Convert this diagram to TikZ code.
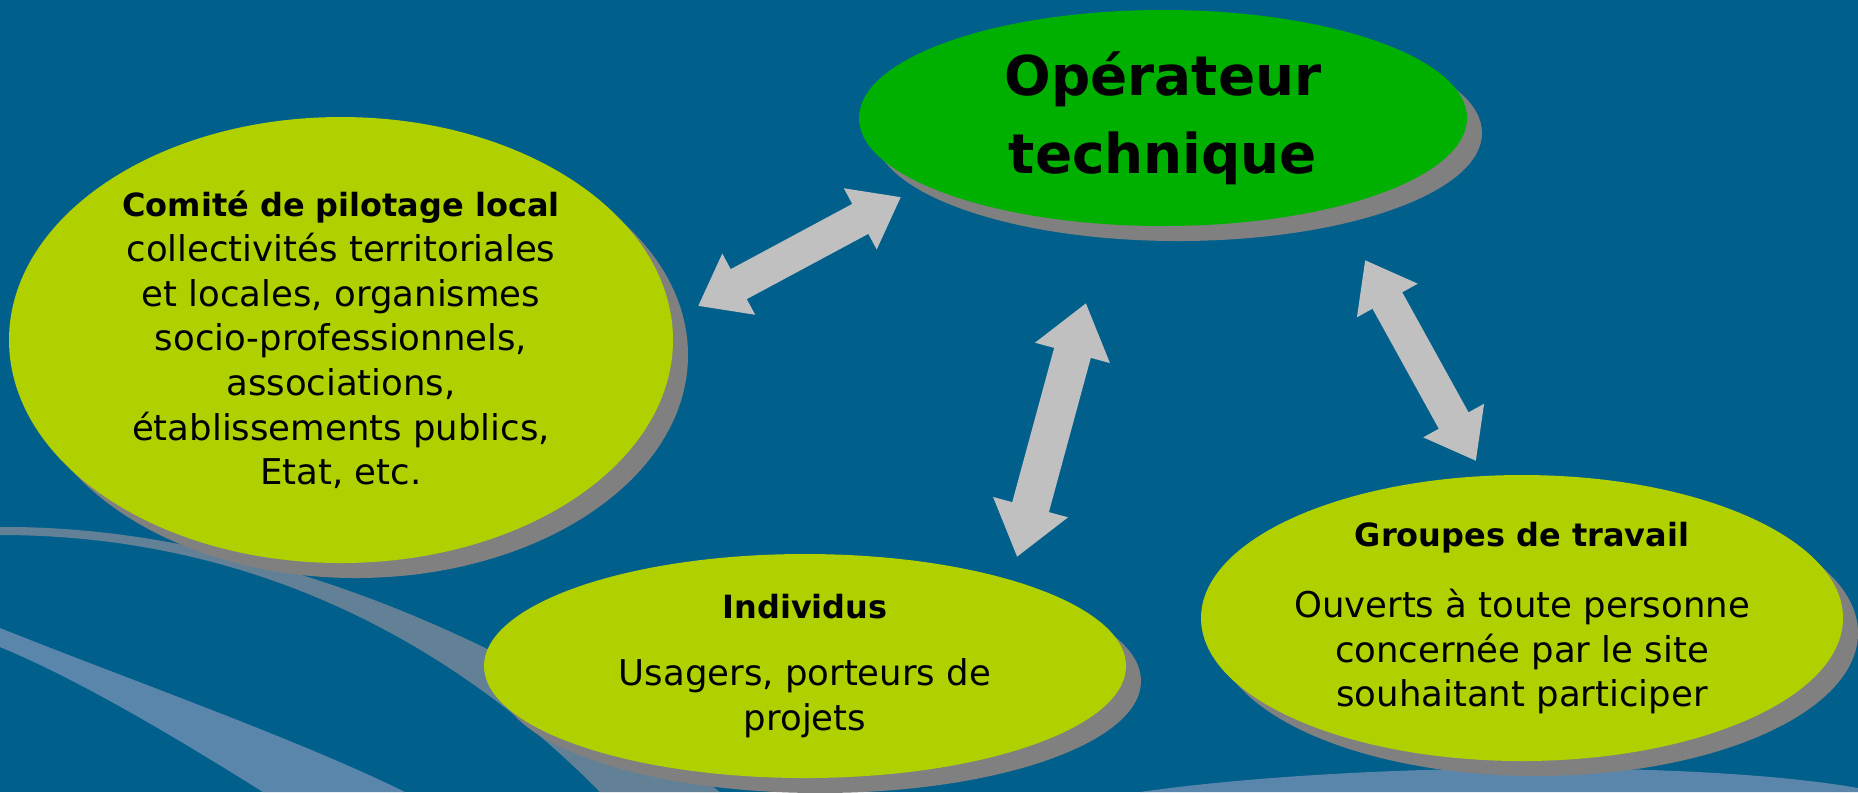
\documentclass[tikz,border=0pt]{standalone}
\usepackage{fontspec}
\setmainfont{DejaVu Sans}
\usetikzlibrary{shapes.geometric,arrows.meta,shadows}
\definecolor{bgblue}{RGB}{0,95,139}
\definecolor{bandgray}{RGB}{98,128,150}
\definecolor{bandblue}{RGB}{90,134,172}
\definecolor{lime}{RGB}{176,208,0}
\definecolor{opgreen}{RGB}{0,176,0}
\definecolor{shadowgray}{RGB}{128,128,128}
\definecolor{arrowgray}{RGB}{192,192,192}
\newcommand{\bubtitle}[1]{{\bfseries\fontsize{9.1pt}{12.7pt}\selectfont #1}}
\begin{document}
\begin{tikzpicture}[x=0.1mm,y=-0.1mm,
  bubble/.style={ellipse,fill=lime,inner xsep=-5mm,inner ysep=-2mm,align=center,
    font=\fontsize{10.1pt}{12.7pt}\selectfont,
    drop shadow={shadow xshift=1.5mm,shadow yshift=-1.5mm,fill=shadowgray,opacity=1}},
  dblarrow/.style={arrowgray,line width=3.4mm,
    {Triangle[length=0pt 1.36,width=0pt 1.95]}-{Triangle[length=0pt 1.36,width=0pt 1.95]}}]
\useasboundingbox (0,0) rectangle (1858,792);
\fill[bgblue] (0,0) rectangle (1858,792);
\fill[bandgray] (0,527) .. controls (250,525) and (520,640) .. (720,792) -- (600,792) .. controls (450,640) and (250,535) .. (0,535) -- cycle;
\fill[bandblue] (0,628) .. controls (130,680) and (300,740) .. (405,792) -- (263,792) .. controls (180,740) and (80,680) .. (0,647) -- cycle;
\fill[bandblue] (1140,792) .. controls (1350,762) and (1700,760) .. (1858,788) -- (1858,792) -- cycle;

\node[bubble,minimum width=66.4mm,minimum height=44.6mm] (copil) at (341,340)
  {\bubtitle{Comité de pilotage local}\\collectivités territoriales\\et locales, organismes\\socio-professionnels,\\associations,\\établissements publics,\\Etat, etc.};
\node[bubble,fill=opgreen,minimum width=60.8mm,minimum height=21.6mm,
  font=\bfseries\fontsize{15.6pt}{22.2pt}\selectfont] (oper) at (1163,118) {Opérateur\\technique};
\node[bubble,minimum width=64.2mm,minimum height=22.4mm] (indiv) at (805,666)
  {\bubtitle{Individus}\\[2.2mm]Usagers, porteurs de\\projets};
\node[bubble,minimum width=64.2mm,minimum height=28.6mm] (groupes) at (1522,618)
  {\bubtitle{Groupes de travail}\\[2.7mm]Ouverts à toute personne\\concernée par le site\\souhaitant participer};

\coordinate (copil-ne) at (698,306);
\coordinate (oper-sw) at (901,197);
\coordinate (oper-s) at (1086,303);
\coordinate (indiv-n) at (1017,557);
\coordinate (oper-se) at (1365,260);
\coordinate (groupes-n) at (1476,461);
\draw[dblarrow] (copil-ne) -- (oper-sw);
\draw[dblarrow,line width=3.8mm] (oper-s) -- (indiv-n);
\draw[dblarrow] (oper-se) -- (groupes-n);
\end{tikzpicture}
\end{document}
